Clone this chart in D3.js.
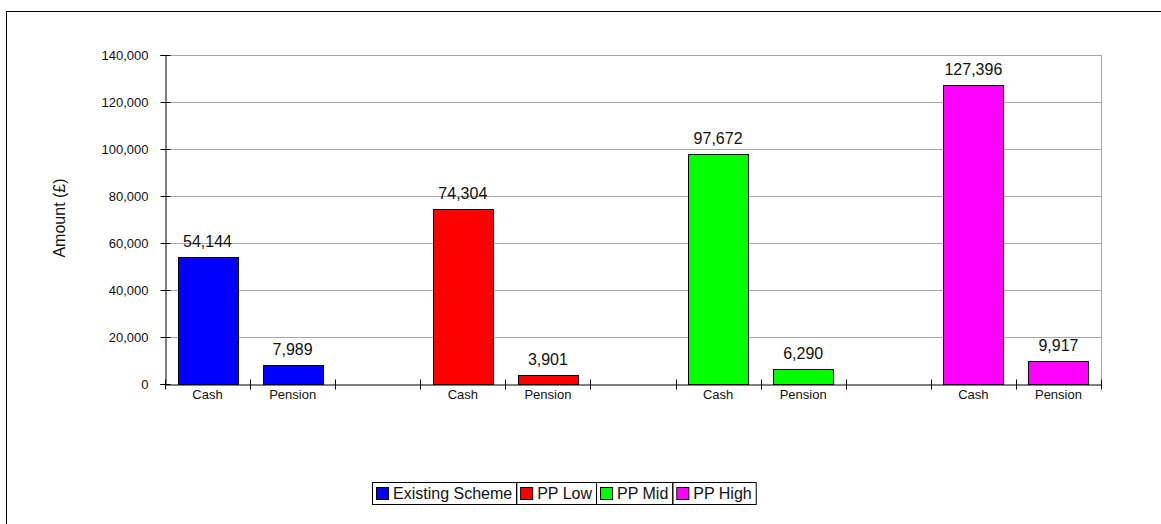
<!DOCTYPE html>
<html><head><meta charset="utf-8">
<script src="https://cdn.jsdelivr.net/npm/d3@7"></script>
<style>body{margin:0;background:#fff}svg{display:block;font-family:"Liberation Sans",Arial,sans-serif}</style>
</head><body><svg id="c" width="1161" height="524"></svg>
<script>
const categories = ["Cash", "Pension"];
const series = ["Existing Scheme", "PP Low", "PP Mid", "PP High"];
const colors = ["#0000ff", "#ff0000", "#00ff00", "#ff00ff"];
const cashValues = [54144, 74304, 97672, 127396];
const pensionValues = [7989, 3901, 6290, 9917];
const yTicks = [0, 20000, 40000, 60000, 80000, 100000, 120000, 140000];

const svg = d3.select("#c");
const W = 1161, H = 524;
// outer frame
svg.append("rect").attr("x", 6.5).attr("y", 11.5).attr("width", W + 10).attr("height", H + 10)
  .attr("fill", "none").attr("stroke", "#000").attr("stroke-width", 1);

const m = {left: 165, right: 1101, top: 55, bottom: 384};

// slots: for each series, Cash, Pension, then a gap (except last)
const slots = [];
series.forEach((s, si) => {
  categories.forEach((c, ci) => slots.push({key: s + "|" + c, label: c, series: si, cat: ci}));
  if (si < series.length - 1) slots.push({key: "gap" + si, label: "", series: -1});
});
const x = d3.scaleBand().domain(slots.map(d => d.key)).range([m.left, m.right]).padding(0);
const y = d3.scaleLinear().domain([0, 140000]).range([m.bottom, m.top]);

// gridlines
svg.append("g").selectAll("line").data(yTicks.filter(t => t > 0)).join("line")
  .attr("x1", m.left).attr("x2", m.right)
  .attr("y1", d => Math.round(y(d)) + 0.5).attr("y2", d => Math.round(y(d)) + 0.5)
  .attr("stroke", "#a6a6a6").attr("stroke-width", 1);
// right border
svg.append("line").attr("x1", m.right + 0.5).attr("x2", m.right + 0.5)
  .attr("y1", m.top).attr("y2", m.bottom).attr("stroke", "#a6a6a6");

// bars
const barData = [];
series.forEach((s, si) => {
  barData.push({key: s + "|Cash", v: cashValues[si], si});
  barData.push({key: s + "|Pension", v: pensionValues[si], si});
});
const bw = x.bandwidth() * 0.705;
const bars = svg.append("g");
bars.selectAll("rect").data(barData).join("rect")
  .attr("x", d => Math.round(x(d.key) + (x.bandwidth() - bw) / 2) + 0.5)
  .attr("y", d => Math.round(y(d.v)) + 0.5)
  .attr("width", Math.round(bw))
  .attr("height", d => Math.round(y(0)) - Math.round(y(d.v)))
  .attr("fill", d => colors[d.si]).attr("stroke", "#000").attr("stroke-width", 1);

bars.selectAll("text").data(barData).join("text")
  .attr("x", d => x(d.key) + x.bandwidth() / 2)
  .attr("y", d => y(d.v) - 10)
  .attr("text-anchor", "middle").attr("font-size", 16).attr("fill", "#111")
  .text(d => d3.format(",")(d.v));

// y axis
const yAxis = d3.axisLeft(y).tickValues(yTicks).tickFormat(d3.format(",")).tickSize(5).tickPadding(12);
const gy = svg.append("g").attr("transform", `translate(${m.left + 0.5},0)`).call(yAxis);
gy.select(".domain").attr("stroke", "#000");
gy.selectAll(".tick line").attr("x2", -5).attr("x1", 5).attr("stroke", "#000");
gy.selectAll(".tick text").attr("font-size", 13).attr("fill", "#111").attr("font-family", "Liberation Sans, Arial, sans-serif").attr("x", -17);
gy.selectAll(".tick").attr("transform", d => `translate(0,${Math.round(y(d)) + 0.5})`);

// x axis
const xAxis = d3.axisBottom(x).tickSize(0).tickPadding(5).tickFormat(k => slots.find(s => s.key === k).label);
const gx = svg.append("g").attr("transform", `translate(0,${m.bottom + 0.5})`).call(xAxis);
gx.select(".domain").attr("stroke", "#000");
gx.selectAll(".tick text").attr("font-size", 13).attr("fill", "#111").attr("font-family", "Liberation Sans, Arial, sans-serif");
const bounds = slots.map(s => x(s.key)).concat([m.right]);
gx.selectAll(".bt").data(bounds).join("line").attr("class", "bt")
  .attr("x1", d => Math.round(d) + 0.5).attr("x2", d => Math.round(d) + 0.5)
  .attr("y1", -5).attr("y2", 5).attr("stroke", "#000");

// y label
svg.append("text").attr("transform", `translate(65,218) rotate(-90)`)
  .attr("text-anchor", "middle").attr("font-size", 16).attr("fill", "#111").text("Amount (£)");

// legend
const lg = svg.append("g");
const lx0 = 372, ly0 = 482, lh = 22;
let cx = lx0;
const cells = [];
series.forEach((s, i) => {
  const t = lg.append("text").attr("x", cx + 21).attr("y", ly0 + 16.5).attr("font-size", 16).attr("fill", "#111").text(s);
  const w = t.node().getComputedTextLength();
  lg.append("rect").attr("x", cx + 4.5).attr("y", ly0 + 5.5).attr("width", 12).attr("height", 12)
    .attr("fill", colors[i]).attr("stroke", "#000");
  const cw = 21 + w + 4;
  cells.push([cx, cw]);
  cx += cw;
});
cells.forEach(([cx0, cw]) => {
  lg.append("rect").attr("x", cx0 + 0.5).attr("y", ly0 + 0.5).attr("width", cw).attr("height", lh)
    .attr("fill", "none").attr("stroke", "#000");
});
</script></body></html>
